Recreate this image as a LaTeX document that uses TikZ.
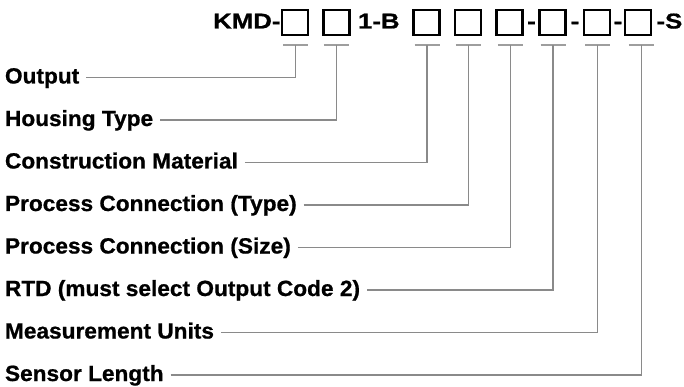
\documentclass[tikz,border=0pt]{standalone}
\usepackage{fontspec}
\newfontfamily\lf{Liberation Sans}[FakeStretch=1.03, FakeBold=0.8]
\newfontfamily\tf{Liberation Sans}[FakeStretch=1.2, FakeBold=0.8]
\usetikzlibrary{calc}
\definecolor{conngray}{HTML}{8A8A8A}
\definecolor{tickgray}{HTML}{9E9E9E}
\tikzset{
  txt/.style={inner sep=0pt, outer sep=0pt, font=\lf\bfseries\fontsize{22}{22}\selectfont, anchor=base west},
  ttl/.style={inner sep=0pt, outer sep=0pt, font=\tf\bfseries\fontsize{21.5}{22}\selectfont, anchor=base west},
  codebox/.style={draw=black, line width=2.2pt, minimum width=26pt, minimum height=25pt, inner sep=0pt, outer sep=0pt},
  tickline/.style={draw=tickgray, line width=1.1pt},
  conn/.style={draw=conngray, line width=1.3pt},
}
\begin{document}
\begin{tikzpicture}[x=1pt,y=-1pt]
\useasboundingbox (0,0) rectangle (684,387);
% title
\node[ttl, anchor=base east] (kmd) at (280.5,28.5) {KMD-};
\node[codebox] (b1) at (295.2,22.5) {};
\node[codebox] (b2) at (336.5,22.5) {};
\node[ttl] (oneb) at (358,28.5) {1-B};
\node[codebox] (b3) at (426.5,22.5) {};
\node[codebox] (b4) at (467.8,22.5) {};
\node[codebox] (b5) at (509.5,22.5) {};
\node[ttl, anchor=base] (d1) at (531.5,28.5) {-};
\node[codebox] (b6) at (552.5,22.5) {};
\node[ttl, anchor=base] (d2) at (575,28.5) {-};
\node[codebox] (b7) at (596.8,22.5) {};
\node[ttl, anchor=base] (d3) at (618,28.5) {-};
\node[codebox] (b8) at (637.7,22.5) {};
\node[ttl] (ends) at (656.5,28.5) {-S};
% tick points
\foreach \i/\x in {1/295.7,2/336.3,3/427,4/468.3,5/510.3,6/553,7/597.5,8/641.3}{
  \coordinate (t\i) at (\x,45);
  \draw[tickline] ($(t\i)+(-12.5pt,0)$) -- ($(t\i)+(12.5pt,0)$);
}
% labels
\node[txt] (l1) at (5,83.5) {Output};
\node[txt] (l2) at (5,126) {Housing Type};
\node[txt] (l3) at (5,168.5) {Construction Material};
\node[txt] (l4) at (5,211) {Process Connection (Type)};
\node[txt] (l5) at (5,253.5) {Process Connection (Size)};
\node[txt] (l6) at (5,296) {RTD (must select Output Code 2)};
\node[txt] (l7) at (5,338.5) {Measurement Units};
\node[txt] (l8) at (5,381) {Sensor Length};
% connectors
\foreach \i in {1,...,8}{
  \draw[conn] ($(l\i.base east)+(7pt,6pt)$) -| (t\i);
}
\end{tikzpicture}
\end{document}
